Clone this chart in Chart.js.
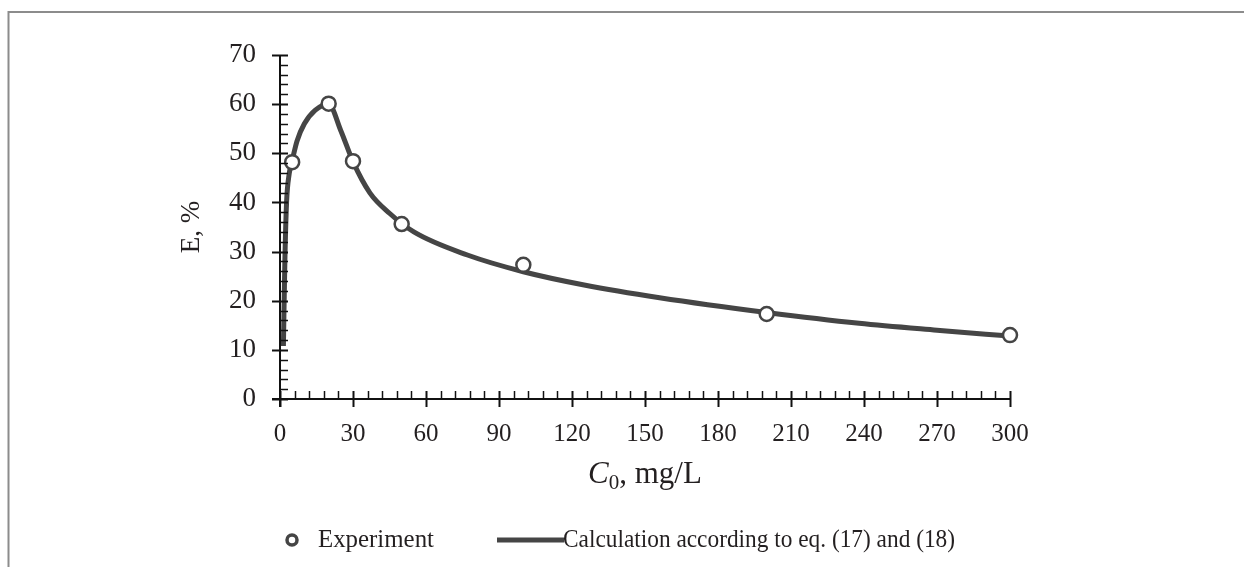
<!DOCTYPE html>
<html>
<head>
<meta charset="utf-8">
<script src="https://cdn.jsdelivr.net/npm/chart.js@4/dist/chart.umd.min.js"></script>
<style>
  html, body { margin: 0; padding: 0; background: #fff; }
  canvas { display: block; }
</style>
</head>
<body>
<canvas id="chart" width="1244" height="567"></canvas>
<script>
// experiment points
const expC0 = [5, 20, 30, 50, 100, 200, 300];
const expE = [48.2, 60.1, 48.4, 35.6, 27.3, 17.3, 13.0];

// calculated curve, eq. (17) and (18)
const calcC0 = [1.4, 2.0, 2.7, 3.8, 5, 7, 10, 14.5, 20, 25, 30, 37, 45, 55, 77, 100, 125, 156, 200, 238, 270, 300];
const calcE = [10.8, 28, 40, 45.9, 48.5, 52.5, 56, 58.8, 60, 54.6, 48.3, 41.9, 37.8, 34, 29.3, 25.9, 23.2, 20.6, 17.6, 15.4, 14.0, 12.8];

const seriesLabels = ['Experiment', 'Calculation according to eq. (17) and (18)'];
const xTitleParts = ['C', '0', ', mg/L'];
const yTitle = 'E, %';

const INK = '#454545';
const TEXT = '#231f20';
const SERIF = '"Liberation Serif", "Times New Roman", serif';

// ticks, frame, x title and legend drawn by hand
const decorPlugin = {
    id: 'decor',
    afterDraw(chart) {
        const ctx = chart.ctx;
        const area = chart.chartArea;
        const xs = chart.scales.x;
        const ys = chart.scales.y;

        ctx.save();

        // frame
        ctx.strokeStyle = '#8c8c8c';
        ctx.lineWidth = 2;
        ctx.beginPath();
        ctx.moveTo(8.5, 567);
        ctx.lineTo(8.5, 12);
        ctx.lineTo(1244, 12);
        ctx.stroke();

        // axes
        ctx.strokeStyle = '#111';
        ctx.lineWidth = 2;
        ctx.beginPath();
        ctx.moveTo(area.left - 8, area.bottom);
        ctx.lineTo(area.right, area.bottom);
        ctx.moveTo(area.left, area.bottom + 8);
        ctx.lineTo(area.left, area.top);
        ctx.stroke();

        // y ticks
        for (let v = 0; v <= 70; v += 2) {
            const py = Math.round(ys.getPixelForValue(v)) + 0.5;
            const major = v % 10 === 0;
            ctx.lineWidth = major ? 2 : 1.5;
            ctx.beginPath();
            ctx.moveTo(area.left - (major ? 8 : 0), py);
            ctx.lineTo(area.left + 8, py);
            ctx.stroke();
        }
        // x ticks
        for (let v = 0; v <= 300; v += 6) {
            const px = Math.round(xs.getPixelForValue(v)) + 0.5;
            const major = v % 30 === 0;
            ctx.lineWidth = major ? 2 : 1.5;
            ctx.beginPath();
            ctx.moveTo(px, area.bottom - 8);
            ctx.lineTo(px, area.bottom + (major ? 8 : 0));
            ctx.stroke();
        }

        // x title: italic C, subscript 0
        const bigFont = '31px ' + SERIF;
        const itFont = 'italic 31px ' + SERIF;
        const subFont = '21px ' + SERIF;
        ctx.fillStyle = TEXT;
        ctx.textBaseline = 'alphabetic';
        ctx.textAlign = 'left';
        ctx.font = itFont;
        const w1 = ctx.measureText(xTitleParts[0]).width;
        ctx.font = subFont;
        const w2 = ctx.measureText(xTitleParts[1]).width;
        ctx.font = bigFont;
        const w3 = ctx.measureText(xTitleParts[2]).width;
        let tx = (area.left + area.right) / 2 - (w1 + w2 + w3) / 2;
        const ty = 483;
        ctx.font = itFont;
        ctx.fillText(xTitleParts[0], tx, ty);
        tx += w1;
        ctx.font = subFont;
        ctx.fillText(xTitleParts[1], tx, ty + 6);
        tx += w2;
        ctx.font = bigFont;
        ctx.fillText(xTitleParts[2], tx, ty);

        // legend
        const ly = 540;
        ctx.font = '25px ' + SERIF;
        ctx.textBaseline = 'middle';
        ctx.strokeStyle = INK;
        ctx.lineWidth = 3.5;
        ctx.fillStyle = '#fff';
        ctx.beginPath();
        ctx.arc(292, ly, 5, 0, Math.PI * 2);
        ctx.fill();
        ctx.stroke();
        ctx.fillStyle = TEXT;
        ctx.fillText(seriesLabels[0], 318, ly, 116);

        ctx.lineWidth = 5;
        ctx.beginPath();
        ctx.moveTo(497, ly);
        ctx.lineTo(564, ly);
        ctx.stroke();
        ctx.fillText(seriesLabels[1], 563, ly, 392);

        ctx.restore();
    }
};

new Chart(document.getElementById('chart'), {
    type: 'scatter',
    data: {
        datasets: [{
            label: seriesLabels[0],
            data: expC0.map((x, i) => ({ x, y: expE[i] })),
            pointRadius: 7,
            pointBorderWidth: 2.5,
            pointBackgroundColor: '#fff',
            pointBorderColor: INK,
            showLine: false,
            clip: false
        }, {
            label: seriesLabels[1],
            type: 'line',
            data: calcC0.map((x, i) => ({ x, y: calcE[i] })),
            borderColor: INK,
            borderWidth: 5,
            pointRadius: 0,
            cubicInterpolationMode: 'monotone',
            fill: false,
            clip: false
        }]
    },
    options: {
        responsive: false,
        animation: false,
        devicePixelRatio: 1,
        layout: {
            padding: { left: 0, right: 234, top: 55, bottom: 0 }
        },
        plugins: {
            legend: { display: false },
            tooltip: { enabled: false }
        },
        scales: {
            x: {
                type: 'linear',
                min: 0,
                max: 300,
                grid: { display: false, drawTicks: false },
                border: { display: false },
                ticks: {
                    stepSize: 30,
                    padding: 20,
                    color: TEXT,
                    font: { family: SERIF, size: 25 }
                },
                afterFit: (scale) => { scale.height = 168; }
            },
            y: {
                min: 0,
                max: 70,
                grid: { display: false, drawTicks: false },
                border: { display: false },
                ticks: {
                    stepSize: 10,
                    padding: 24,
                    color: TEXT,
                    font: { family: SERIF, size: 27 }
                },
                title: {
                    display: true,
                    text: yTitle,
                    color: TEXT,
                    font: { family: SERIF, size: 27 },
                    padding: { top: 176, bottom: 0 }
                },
                afterFit: (scale) => { scale.width = 280; }
            }
        }
    },
    plugins: [decorPlugin]
});
</script>
</body>
</html>
